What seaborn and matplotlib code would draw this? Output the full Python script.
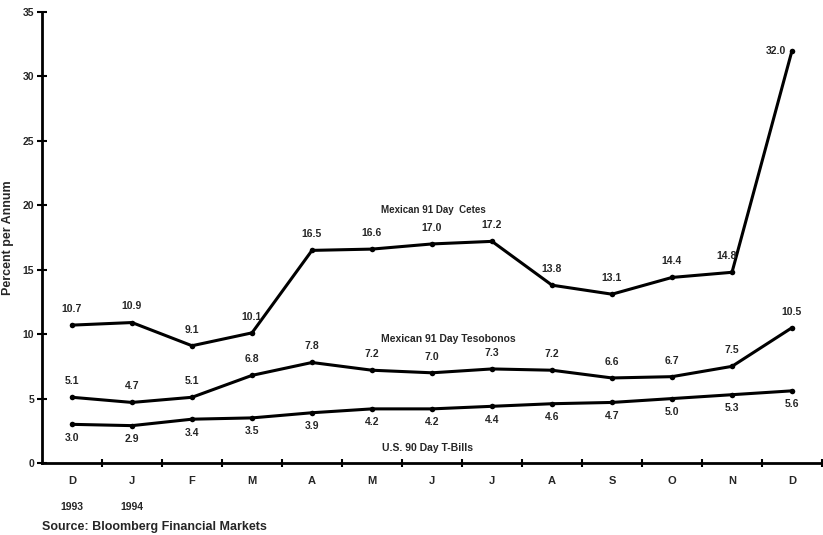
import numpy as np
import pandas as pd
import matplotlib
matplotlib.use("Agg")
import matplotlib.pyplot as plt
import seaborn as sns

months = ["D", "J", "F", "M", "A", "M", "J", "J", "A", "S", "O", "N", "D"]
years = {0: "1993", 1: "1994"}
cetes = [10.7, 10.9, 9.1, 10.1, 16.5, 16.6, 17.0, 17.2, 13.8, 13.1, 14.4, 14.8, 32.0]
tesobonos = [5.1, 4.7, 5.1, 6.8, 7.8, 7.2, 7.0, 7.3, 7.2, 6.6, 6.7, 7.5, 10.5]
tbills = [3.0, 2.9, 3.4, 3.5, 3.9, 4.2, 4.2, 4.4, 4.6, 4.7, 5.0, 5.3, 5.6]
series_names = ["Mexican 91 Day  Cetes", "Mexican 91 Day Tesobonos", "U.S. 90 Day T-Bills"]

sns.set_theme(style="white")
plt.rcParams["font.family"] = ["Liberation Sans", "DejaVu Sans"]
plt.rcParams["font.weight"] = "bold"

idx = np.arange(len(months))
df = pd.DataFrame({
    "idx": np.tile(idx, 3),
    "rate": cetes + tesobonos + tbills,
    "series": np.repeat(series_names, len(months)),
})

fig = plt.figure(figsize=(8.23, 5.35), dpi=100)
ax = fig.add_axes([42 / 823, (535 - 463) / 535, 780 / 823, (463 - 12) / 535])

sns.lineplot(data=df, x="idx", y="rate", hue="series", units="series", estimator=None,
             palette=["black"] * 3, linewidth=2.2, marker="o", markersize=4,
             markeredgewidth=0, legend=False, ax=ax)

ax.set_xlim(-0.5, 12.5)
ax.set_ylim(0, 35)

# value labels
last = len(months) - 1
for i, v in enumerate(cetes):
    if i == last:
        ax.annotate(f"{v:.1f}", (i, v), xytext=(-4, 0), textcoords="offset points",
                    ha="right", va="center", fontsize=7.5, fontweight="bold")
    else:
        dx = -4 if i == last - 1 else 0
        ax.annotate(f"{v:.1f}", (i, v), xytext=(dx, 8), textcoords="offset points",
                    ha="center", va="bottom", fontsize=7.5, fontweight="bold")
for i, v in enumerate(tesobonos):
    ax.annotate(f"{v:.1f}", (i, v), xytext=(0, 8), textcoords="offset points",
                ha="center", va="bottom", fontsize=7.5, fontweight="bold")
for i, v in enumerate(tbills):
    ax.annotate(f"{v:.1f}", (i, v), xytext=(0, -6), textcoords="offset points",
                ha="center", va="top", fontsize=7.5, fontweight="bold")

# series names
ax.text(6.03, 19.6, series_names[0], ha="center", va="center", fontsize=7, fontweight="bold")
ax.text(6.27, 9.6, series_names[1], ha="center", va="center", fontsize=7.5, fontweight="bold")
ax.text(5.92, 1.15, series_names[2], ha="center", va="center", fontsize=7.5, fontweight="bold")

# axes styling
for side in ["top", "right"]:
    ax.spines[side].set_visible(False)
for side in ["left", "bottom"]:
    ax.spines[side].set_linewidth(2)
    ax.spines[side].set_color("black")

ax.set_yticks(np.arange(0, 36, 5))
ax.set_yticklabels([str(t) for t in range(0, 36, 5)], fontsize=7.5, fontweight="bold")
ax.tick_params(axis="y", left=True, direction="inout", length=7, width=1.5,
               color="black", pad=2)

ax.set_xticks(idx)
ax.set_xticklabels(months, fontsize=8, fontweight="bold")
ax.tick_params(axis="x", which="major", bottom=True, length=0, pad=9)
ax.set_xticks(np.arange(0.5, 12.6, 1), minor=True)
ax.tick_params(axis="x", which="minor", bottom=True, direction="inout", length=6,
               width=1.5, color="black")

for i, y in years.items():
    ax.annotate(y, (i, 0), xytext=(0, -32), textcoords="offset points",
                ha="center", va="center", fontsize=7.5, fontweight="bold")

ax.set_xlabel("")
ax.set_ylabel("Percent per Annum", fontsize=9, fontweight="bold")
ax.yaxis.set_label_coords(-0.036, 0.50)

fig.text(42 / 823, 1 - 527 / 535, "Source: Bloomberg Financial Markets",
         ha="left", va="center", fontsize=9, fontweight="bold")

fig.savefig("out.png", dpi=100, facecolor="white")
